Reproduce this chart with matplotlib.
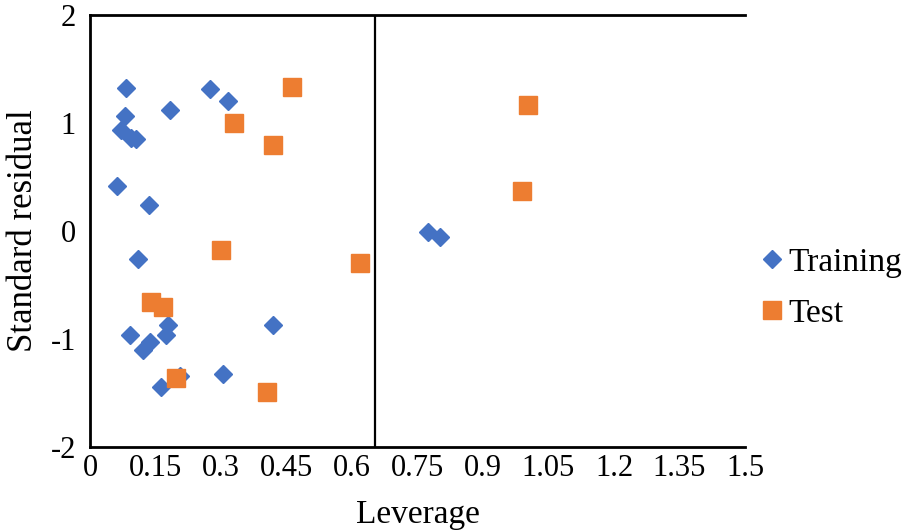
import matplotlib
matplotlib.use("Agg")
import matplotlib.pyplot as plt

plt.rcParams['font.family'] = ['Liberation Serif', 'DejaVu Serif']
plt.rcParams['axes.unicode_minus'] = False

# Training set (leverage, standardized residual)
train_lev = [0.082, 0.080, 0.071, 0.094, 0.105, 0.062, 0.135, 0.183, 0.275, 0.316,
             0.110, 0.092, 0.137, 0.121, 0.179, 0.174, 0.163, 0.206, 0.305, 0.419,
             0.774, 0.801]
train_res = [1.324, 1.065, 0.935, 0.861, 0.852, 0.417, 0.241, 1.120, 1.315, 1.204,
             -0.259, -0.963, -1.028, -1.100, -0.870, -0.963, -1.444, -1.343, -1.324, -0.870,
             -0.009, -0.055]

# Test set
test_lev = [0.463, 0.330, 0.419, 0.300, 0.618, 1.003, 0.989, 0.139, 0.167, 0.197, 0.405]
test_res = [1.333, 1.000, 0.796, -0.176, -0.296, 1.167, 0.370, -0.657, -0.704, -1.361, -1.491]

h_star = 0.653
x_ticks = [0, 0.15, 0.3, 0.45, 0.6, 0.75, 0.9, 1.05, 1.2, 1.35, 1.5]
x_ticklabels = ['0', '0.15', '0.3', '0.45', '0.6', '0.75', '0.9', '1.05', '1.2', '1.35', '1.5']
y_ticks = [-2, -1, 0, 1, 2]

fig = plt.figure(figsize=(9.04, 5.32), dpi=100)
ax = fig.add_axes([90/904, 1 - 447/532, (745 - 90)/904, (447 - 15)/532])

ax.plot(train_lev, train_res, linestyle='none', marker='D', markersize=9.2,
        color='#4472C4', label='Training')
ax.plot(test_lev, test_res, linestyle='none', marker='s', markersize=13,
        color='#ED7D31', label='Test')
ax.axvline(h_star, color='black', linewidth=1.6)

ax.set_xlim(0, 1.5)
ax.set_ylim(-2, 2)
ax.set_xticks(x_ticks)
ax.set_xticklabels(x_ticklabels)
ax.set_yticks(y_ticks)
ax.tick_params(axis='both', length=0, labelsize=22)
ax.tick_params(axis='x', pad=5)
ax.tick_params(axis='y', pad=10)

for side in ['left', 'bottom', 'top']:
    ax.spines[side].set_linewidth(2)
    ax.spines[side].set_color('black')
ax.spines['right'].set_visible(False)

ax.set_xlabel('Leverage', fontsize=24, labelpad=12)
ax.set_ylabel('Standard residual', fontsize=25, labelpad=8)

fig.legend(loc='center left', bbox_to_anchor=(742/904, 1 - 288/532), frameon=False,
           fontsize=24, handletextpad=0.0, labelspacing=0.6, handlelength=1.0,
           borderaxespad=0)

fig.savefig('out.png', dpi=100)
